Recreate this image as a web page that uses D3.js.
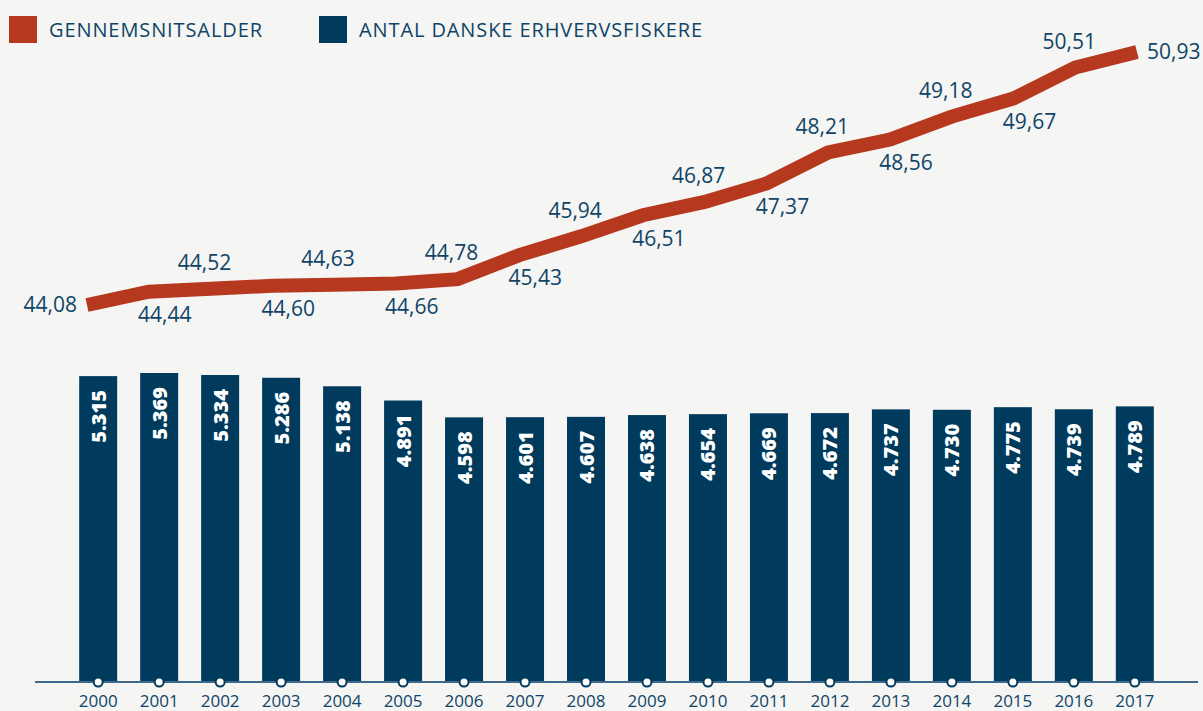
<!DOCTYPE html>
<html><head><meta charset="utf-8">
<script src="https://cdn.jsdelivr.net/npm/d3@7"></script>
<style>
html,body{margin:0;padding:0;background:#f5f5f3;}
svg{display:block;}
</style></head>
<body>
<svg id="c" width="1203" height="711"></svg>
<script>
const years = ["2000","2001","2002","2003","2004","2005","2006","2007","2008","2009","2010","2011","2012","2013","2014","2015","2016","2017"];
const fishers = [5315,5369,5334,5286,5138,4891,4598,4601,4607,4638,4654,4669,4672,4737,4730,4775,4739,4789];
const avgAge = [44.08,44.44,44.52,44.60,44.63,44.66,44.78,45.43,45.94,46.51,46.87,47.37,48.21,48.56,49.18,49.67,50.51,50.93];
const seriesNames = ["GENNEMSNITSALDER","ANTAL DANSKE ERHVERVSFISKERE"];

const RED = "#b5381f", NAVY = "#003a5c", TXT = "#0f4468";
const svg = d3.select("#c");
const font = "'Open Sans', 'Noto Sans', sans-serif";

const locale = d3.formatLocale({decimal: ",", thousands: ".", grouping: [3], currency: ["", ""]});
const fmtInt = locale.format(",d");
const fmtAge = locale.format(".2f");

// scales
const x = d3.scaleBand().domain(years).range([67, 1166]).paddingInner(0.377).paddingOuter(0.2);
const y = d3.scaleLinear().domain([0, 5369]).range([682, 373]);
const xl = d3.scalePoint().domain(years).range([87, 1137]);
const yl = d3.scaleLinear().domain([44.08, 50.93]).range([305, 52]);

// bars
svg.append("g").selectAll("rect").data(years).join("rect")
  .attr("x", d => x(d)).attr("width", x.bandwidth())
  .attr("y", (d,i) => y(fishers[i])).attr("height", (d,i) => y(0) - y(fishers[i]))
  .attr("fill", NAVY);

// bar labels
svg.append("g").selectAll("text").data(years).join("text")
  .attr("transform", (d,i) => `translate(${x(d) + x.bandwidth()/2 + 7.5},${y(fishers[i]) + 14}) rotate(-90)`)
  .attr("text-anchor", "end")
  .attr("font-family", font).attr("font-weight", 800).attr("font-size", 20)
  .attr("fill", "#ffffff")
  .text((d,i) => fmtInt(fishers[i]));

// axis
const ax = svg.append("g").attr("transform", `translate(0,${y(0)})`)
  .call(d3.axisBottom(x).tickSize(0).tickPadding(13));
ax.select(".domain").remove();
ax.selectAll("text").attr("font-family", font).attr("font-size", 17).attr("fill", TXT);
svg.append("line").attr("x1", 35).attr("x2", 1198).attr("y1", y(0)).attr("y2", y(0))
  .attr("stroke", "#3d6a8c").attr("stroke-width", 2);
svg.append("g").selectAll("circle").data(years).join("circle")
  .attr("cx", d => x(d) + x.bandwidth()/2).attr("cy", y(0)).attr("r", 4.5)
  .attr("fill", "#ffffff").attr("stroke", NAVY).attr("stroke-width", 2);

// line
const line = d3.line().x((d,i) => xl(years[i])).y(d => yl(d));
svg.append("path").datum(avgAge).attr("d", line)
  .attr("fill", "none").attr("stroke", RED).attr("stroke-width", 14)
  .attr("stroke-linejoin", "miter").attr("stroke-linecap", "butt");

// line labels
const n = avgAge.length;
svg.append("g").selectAll("text").data(avgAge).join("text")
  .attr("x", (d,i) => {
    const px = xl(years[i]);
    if (i === 0) return px - 10;
    if (i === n-1) return px + 10;
    return i % 2 === 0 ? px - 6 : px + 16;
  })
  .attr("y", (d,i) => {
    const py = yl(d);
    if (i === 0 || i === n-1) return py;
    return i % 2 === 0 ? py - 26 : py + 23;
  })
  .attr("dy", "0.35em")
  .attr("text-anchor", (d,i) => i === 0 ? "end" : (i === n-1 ? "start" : "middle"))
  .attr("font-family", font).attr("font-size", 21).attr("fill", TXT)
  .text(d => fmtAge(d));

// legend
const leg = svg.append("g");
const legX = [9, 319];
const legC = [RED, NAVY];
seriesNames.forEach((s, i) => {
  leg.append("rect").attr("x", legX[i]).attr("y", 16).attr("width", 28).attr("height", 27).attr("fill", legC[i]);
  leg.append("text").attr("x", legX[i] + 40).attr("y", 30).attr("dy", "0.35em")
    .attr("font-family", font).attr("font-size", 20).attr("letter-spacing", 0.9).attr("fill", TXT).text(s);
});
</script>
</body></html>
